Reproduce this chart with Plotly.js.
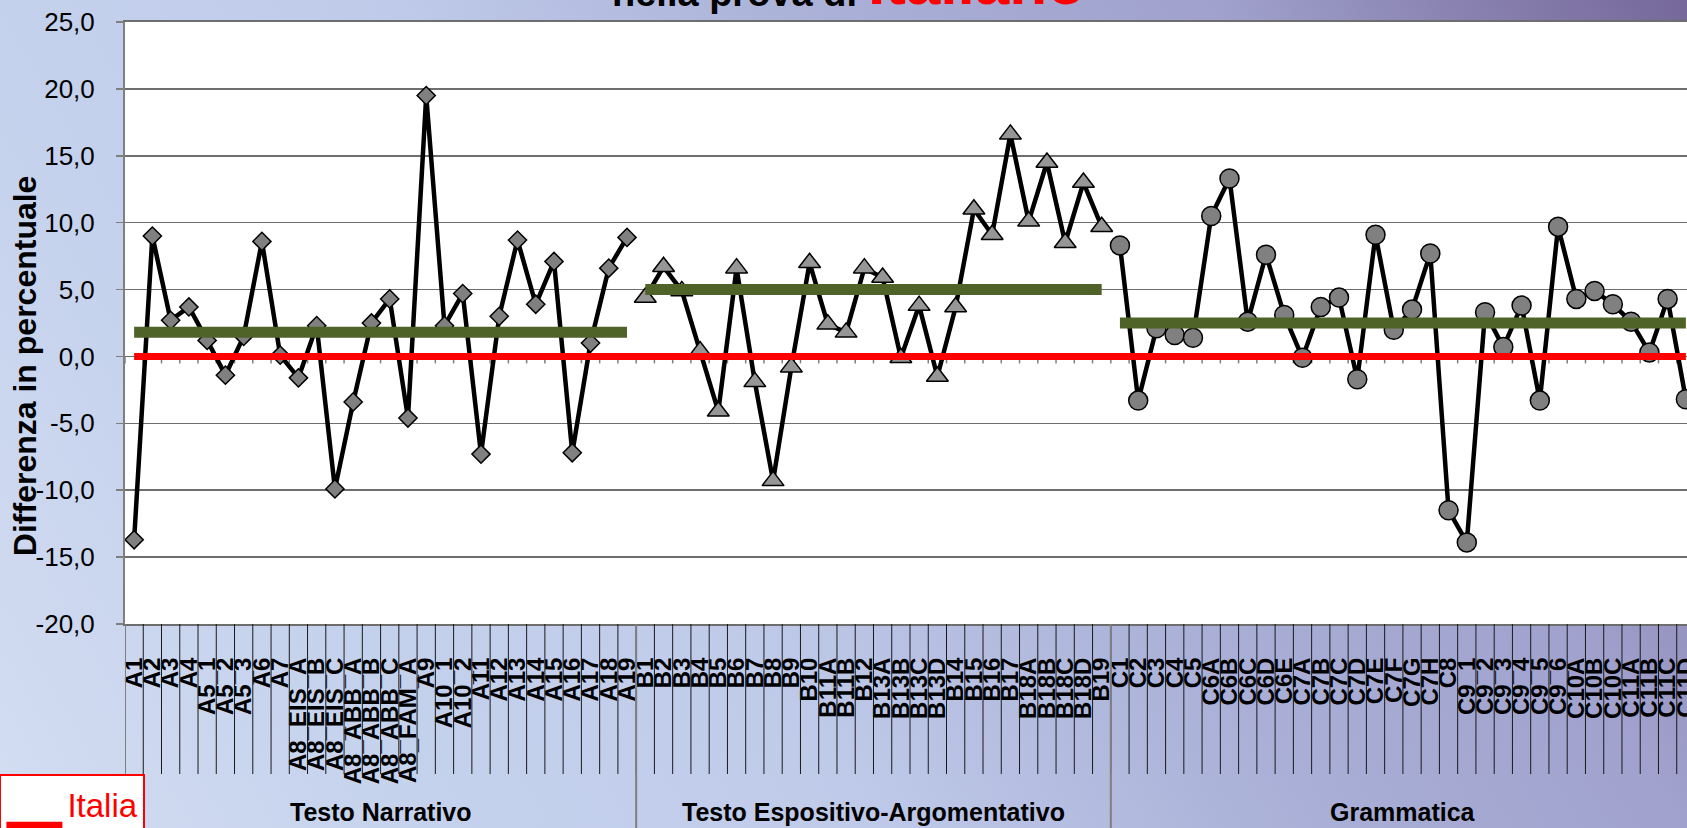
<!DOCTYPE html>
<html>
<head>
<meta charset="utf-8">
<script src="https://cdn.plot.ly/plotly-3.0.1.min.js"></script>
<style>
  html, body { margin: 0; padding: 0; overflow: hidden; width: 1687px; height: 828px; }
  body {
    background: linear-gradient(60deg, #d3ddf2 0%, #c4d1ec 22%, #c0cbea 39%, #a9afd6 61%, #a0a2cd 78%, #8a83b1 89%, #75679a 100%);
  }
  #chart { position: absolute; left: 0; top: 0; width: 1695px; height: 828px; }
</style>
</head>
<body>
<div id="chart"></div>
<script>
// categorie (item della prova) per sezione
const catsNarrativo = ['A1', 'A2', 'A3', 'A4', 'A5_1', 'A5_2', 'A5_3', 'A6', 'A7',
    'A8_EIS_A', 'A8_EIS_B', 'A8_EIS_C', 'A8_ABB_A', 'A8_ABB_B', 'A8_ABB_C', 'A8_FAM_A',
    'A9', 'A10_1', 'A10_2', 'A11', 'A12', 'A13', 'A14', 'A15', 'A16', 'A17', 'A18', 'A19'];
const catsEspositivo = ['B1', 'B2', 'B3', 'B4', 'B5', 'B6', 'B7', 'B8', 'B9', 'B10',
    'B11A', 'B11B', 'B12', 'B13A', 'B13B', 'B13C', 'B13D', 'B14', 'B15', 'B16', 'B17',
    'B18A', 'B18B', 'B18C', 'B18D', 'B19'];
const catsGrammatica = ['C1', 'C2', 'C3', 'C4', 'C5', 'C6A', 'C6B', 'C6C', 'C6D', 'C6E',
    'C7A', 'C7B', 'C7C', 'C7D', 'C7E', 'C7F', 'C7G', 'C7H', 'C8',
    'C9_1', 'C9_2', 'C9_3', 'C9_4', 'C9_5', 'C9_6', 'C10A', 'C10B', 'C10C',
    'C11A', 'C11B', 'C11C', 'C11D'];

// differenza in percentuale rispetto all'Italia
const valsNarrativo = [-13.7, 9.0, 2.7, 3.7, 1.2, -1.4, 1.5, 8.6, 0.1, -1.6, 2.3, -9.9, -3.4, 2.5,
    4.3, -4.6, 19.5, 2.3, 4.7, -7.3, 3.0, 8.7, 3.9, 7.1, -7.2, 1.0, 6.6, 8.9];
const valsEspositivo = [4.4, 6.7, 4.9, 0.4, -4.1, 6.6, -1.9, -9.3, -0.8, 7.0, 2.4, 1.8, 6.6,
    5.9, -0.1, 3.8, -1.5, 3.7, 11.0, 9.1, 16.6, 10.1, 14.5, 8.5, 13.0, 9.7];
const valsGrammatica = [8.3, -3.3, 2.1, 1.6, 1.4, 10.5, 13.3, 2.6, 7.6, 3.1, -0.1, 3.7, 4.4,
    -1.7, 9.1, 2.0, 3.5, 7.7, -11.5, -13.9, 3.3, 0.7, 3.8, -3.3, 9.7, 4.3, 4.9, 3.9, 2.6,
    0.3, 4.3, -3.2];

// medie di sezione e riferimento nazionale
const groupNames = ['Testo Narrativo', 'Testo Espositivo-Argomentativo', 'Grammatica'];
const groupMeans = [1.8, 5.0, 2.5];
const italiaValue = 0;

const yTickVals = [-20, -15, -10, -5, 0, 5, 10, 15, 20, 25];
const yTickText = ['-20,0', '-15,0', '-10,0', '-5,0', '0,0', '5,0', '10,0', '15,0', '20,0', '25,0'];

const FONT = 'Arial, "Liberation Sans", sans-serif';
const groupCats = [catsNarrativo, catsEspositivo, catsGrammatica];
const allCats = [].concat(...groupCats);

function seriesTrace(cats, vals, symbol, fill, size) {
    return {
        x: cats, y: vals, type: 'scatter', mode: 'lines+markers', showlegend: false,
        line: { color: '#000000', width: 4.5 },
        marker: { symbol: symbol, size: size, color: fill, line: { color: '#000000', width: 1.5 } },
        hoverinfo: 'x+y'
    };
}

const traces = [
    seriesTrace(catsNarrativo, valsNarrativo, 'diamond', '#808080', 14),
    seriesTrace(catsEspositivo, valsEspositivo, 'triangle-up', '#969696', 19),
    seriesTrace(catsGrammatica, valsGrammatica, 'circle', '#808080', 19)
];

// linee delle medie di sezione
groupCats.forEach((cats, g) => {
    traces.push({
        x: [cats[0], cats[cats.length - 1]], y: [groupMeans[g], groupMeans[g]],
        type: 'scatter', mode: 'lines', showlegend: false,
        line: { color: '#4f6228', width: 11 }, hoverinfo: 'y'
    });
});

traces.push({
    x: [allCats[0], allCats[allCats.length - 1]], y: [italiaValue, italiaValue],
    type: 'scatter', mode: 'lines', name: 'Italia<br>&nbsp;', showlegend: true,
    line: { color: '#ff0000', width: 7 }, hoverinfo: 'y'
});

// linee di separazione dell'asse categorie
const shapes = [];
const labelDepth = -150 / 602;
for (let i = 0; i <= allCats.length; i++) {
    shapes.push({
        type: 'line', xref: 'x', yref: 'paper', x0: i - 0.5, x1: i - 0.5, y0: 0, y1: labelDepth,
        line: { color: '#1a1a1a', width: 1 }
    });
    shapes.push({
        type: 'line', xref: 'x', yref: 'y', ysizemode: 'pixel', yanchor: 0,
        x0: i - 0.5, x1: i - 0.5, y0: 0, y1: -7, layer: 'below',
        line: { color: '#808080', width: 1.5 }
    });
}

const annotations = [];
let start = 0;
groupCats.forEach((cats, g) => {
    shapes.push({
        type: 'line', xref: 'x', yref: 'paper', x0: start - 0.5, x1: start - 0.5, y0: 0, y1: -0.4,
        line: { color: '#7f7f7f', width: 2 }
    });
    annotations.push({
        text: '<b>' + groupNames[g] + '</b>', xref: 'x', yref: 'paper',
        x: start + (cats.length - 1) / 2, y: -0.313, yanchor: 'middle', showarrow: false,
        font: { family: FONT, size: 25, color: '#000000' }
    });
    start += cats.length;
});

// titolo dell'asse y
annotations.push({
    text: '<b>Differenza in percentuale</b>', xref: 'paper', yref: 'paper',
    x: -0.0637, y: 0.43, textangle: -90, xanchor: 'center', yanchor: 'middle', showarrow: false,
    font: { family: FONT, size: 32, color: '#000000' }
});

// titolo (tagliato in alto come nell'originale)
annotations.push({
    text: '<b>nella prova di</b>', xref: 'paper', yref: 'paper', x: 0.4675, y: 1,
    xanchor: 'right', yanchor: 'bottom', yshift: 6, showarrow: false,
    font: { family: FONT, size: 38, color: '#000000' }
});
annotations.push({
    text: '<b>Italiano</b>', xref: 'paper', yref: 'paper', x: 0.472, y: 1,
    xanchor: 'left', yanchor: 'bottom', yshift: 3, showarrow: false,
    font: { family: FONT, size: 62, color: '#ff0000' }
});

const layout = {
    width: 1695, height: 828,
    margin: { l: 125, r: 0, t: 22, b: 204, autoexpand: false },
    paper_bgcolor: 'rgba(0,0,0,0)',
    plot_bgcolor: '#ffffff',
    font: { family: FONT, color: '#000000' },
    xaxis: {
        type: 'category', categoryorder: 'array', categoryarray: allCats,
        range: [-0.5, allCats.length - 0.5],
        tickmode: 'linear', dtick: 1, tick0: 0,
        tickangle: -90, ticks: '', ticklabelstandoff: 22,
        tickfont: { family: FONT, size: 24, weight: 'bold', color: '#000000' },
        showgrid: false, zeroline: false,
        showline: true, mirror: true, linecolor: '#6e6e6e', linewidth: 2
    },
    yaxis: {
        range: [-20, 25], tickmode: 'array', tickvals: yTickVals, ticktext: yTickText,
        ticks: 'outside', ticklen: 7, tickcolor: '#7f7f7f', tickwidth: 1.5,
        ticklabelstandoff: 16,
        tickfont: { family: FONT, size: 26, color: '#000000' },
        showline: true, linecolor: '#7f7f7f', linewidth: 2,
        gridcolor: '#6e6e6e', gridwidth: 1.5, zeroline: false
    },
    showlegend: true,
    legend: {
        x: -0.08, y: -0.249, xanchor: 'left', yanchor: 'top',
        bgcolor: '#ffffff', bordercolor: '#ff0000', borderwidth: 2,
        itemwidth: 56,
        font: { family: FONT, size: 33, color: '#ff0000' }
    },
    shapes: shapes,
    annotations: annotations
};

Plotly.newPlot('chart', traces, layout, { displayModeBar: false, staticPlot: true });
</script>
</body>
</html>
